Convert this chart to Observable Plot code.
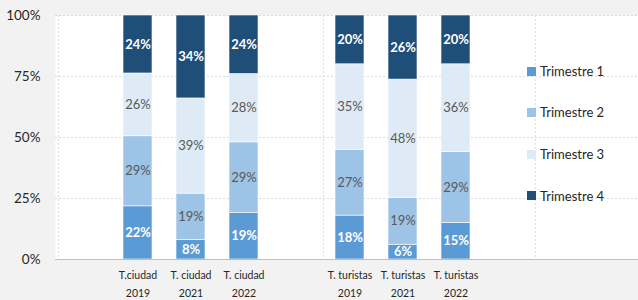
<!DOCTYPE html>
<html><head><meta charset="utf-8">
<script src="https://cdn.jsdelivr.net/npm/d3@7"></script>
<script src="https://cdn.jsdelivr.net/npm/@observablehq/plot@0.6"></script>
<style>
html,body{margin:0;padding:0;background:#f2f2f2;}
#wrap{position:relative;width:638px;height:300px;}
#legend{position:absolute;left:527px;top:0;font-family:Lato,sans-serif;font-size:13px;color:#262626;}
.item{position:absolute;left:0;display:flex;align-items:center;white-space:nowrap;transform:translateY(-50%);}
.sw{width:9px;height:9px;margin-right:4px;}
</style></head><body><div id="wrap"></div>
<script>
// categories (bars) and empty gap slots of the category axis
const categories = ["c2019","c2021","c2022","t2019","t2021","t2022"];
const catLine1 = ["T.ciudad","T. ciudad","T. ciudad","T. turistas","T. turistas","T. turistas"];
const catLine2 = ["2019","2021","2022","2019","2021","2022"];
const slots = ["s0","c2019","c2021","c2022","s1","t2019","t2021","t2022","s2","s3"];
const series = ["Trimestre 1","Trimestre 2","Trimestre 3","Trimestre 4"];
const colors = ["#5b9bd5","#9dc3e6","#deebf7","#1f4e79"];
// percentages per quarter
const q1 = [22, 8, 19, 18, 6, 15];
const q2 = [29, 19, 29, 27, 19, 29];
const q3 = [26, 39, 28, 35, 48, 36];
const q4 = [24, 34, 24, 20, 26, 20];
const yTicks = [0, 0.25, 0.5, 0.75, 1];

const W = 638, H = 300, mL = 55, mT = 15, mB = 41;
const xRange = [55, 590];
const step = (xRange[1] - xRange[0]) / slots.length;
const padIn = 0.457;

const qs = [q1, q2, q3, q4];
const data = [];
series.forEach((s, si) => categories.forEach((c, ci) => data.push({cat: c, series: s, value: qs[si][ci]})));
const boldSet = new Set([series[0], series[3]]);

const stack = o => Plot.stackY({x: "cat", y: "value", z: "series", offset: "normalize", order: series, ...o});

const chart = Plot.plot({
  width: W, height: H,
  marginLeft: mL, marginRight: 0, marginTop: mT, marginBottom: mB,
  style: {background: "#f2f2f2", fontFamily: "Lato, sans-serif", fontSize: "13px", color: "#262626"},
  x: {type: "band", domain: slots, range: xRange, paddingInner: padIn, paddingOuter: padIn / 2, axis: null, label: null},
  y: {domain: [0, 1], axis: null, label: null},
  color: {domain: series, range: colors},
  marks: [
    Plot.frame({fill: "white", stroke: "none"}),
    Plot.ruleY(yTicks.slice(1), {stroke: "#d9d9d9", strokeDasharray: "2,2"}),
    Plot.ruleX(["s0", "t2019", "s3"], {dx: -step / 2, stroke: "#d9d9d9", strokeDasharray: "2,2"}),
    Plot.barY(data, stack({fill: "series", stroke: "white", strokeWidth: 0.6})),
    Plot.text(data, stack({text: d => boldSet.has(d.series) ? d.value + "%" : "", fill: "white", fontWeight: "bold", fontSize: 13})),
    Plot.text(data, stack({text: d => boldSet.has(d.series) ? "" : d.value + "%", fill: "#595959", fontSize: 13})),
    Plot.ruleY([0], {stroke: "#bfbfbf"}),
    Plot.axisY({ticks: yTicks, tickFormat: d3.format(".0%"), tickSize: 0, tickPadding: 15, fontSize: 13.5, fill: "#262626", label: null}),
    Plot.axisX({ticks: categories, tickFormat: d => catLine1[categories.indexOf(d)], tickSize: 0, tickPadding: 12, fontSize: 10.5, fill: "#262626", label: null}),
    Plot.axisX({ticks: categories, tickFormat: d => catLine2[categories.indexOf(d)], tickSize: 0, tickPadding: 30, fontSize: 10.5, fill: "#262626", label: null})
  ]
});
const wrap = document.getElementById("wrap");
wrap.appendChild(chart);

// legend
const legendY = [71, 112, 154, 195.5];
const leg = document.createElement("div");
leg.id = "legend";
series.forEach((s, i) => {
  const it = document.createElement("div");
  it.className = "item";
  it.style.top = legendY[i] + "px";
  const sw = document.createElement("span");
  sw.className = "sw";
  sw.style.background = colors[i];
  const t = document.createElement("span");
  t.textContent = s;
  it.appendChild(sw); it.appendChild(t);
  leg.appendChild(it);
});
wrap.appendChild(leg);
</script></body></html>
